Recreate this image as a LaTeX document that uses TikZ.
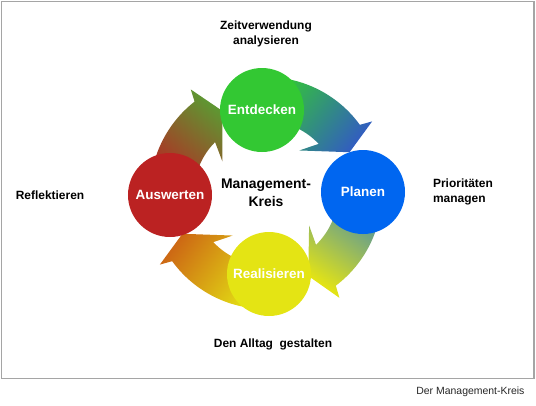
\documentclass[tikz,border=0pt]{standalone}
\usepackage{fontspec}
\setmainfont{Liberation Sans}
\usetikzlibrary{positioning}
\definecolor{gruen}{RGB}{51,200,51}
\definecolor{blau}{RGB}{0,102,240}
\definecolor{rot}{RGB}{187,34,34}
\definecolor{gelb}{RGB}{228,228,20}
\definecolor{stahl}{RGB}{50,95,190}
\definecolor{orangerot}{RGB}{205,105,20}
\definecolor{oliv}{RGB}{95,150,50}
\definecolor{rahmengrau}{RGB}{165,165,165}

\begin{document}
\begin{tikzpicture}[x=1bp,y=1bp,node distance=80bp,on grid,
  phase/.style={circle,minimum size=84bp,inner sep=0pt,text=white,font=\fontsize{13.5}{16}\selectfont\bfseries},
  etikett/.style={font=\fontsize{12}{15}\selectfont\bfseries,align=center}]
\useasboundingbox (-266,-212) rectangle (270,193);
\draw[rahmengrau,line width=1.5bp] (-264.5,191.5) rectangle (268,-185.5);
\node[etikett,font=\fontsize{14}{18}\selectfont\bfseries] (M) at (0,0) {Management-\\Kreis};

% Pfeile im Kreis
\shade[bottom color=gruen,middle color=gruen!65!stahl,top color=stahl,shading angle=-128]
  (93:72) arc[start angle=93,end angle=43,radius=72] -- (52:54) -- (26:93)
  -- (34:128) -- (36:116) arc[start angle=36,end angle=93,radius=116] -- cycle;
\shade[bottom color=blau!70!gelb,middle color=blau!35!gelb,top color=gelb,shading angle=145]
  (1:72) arc[start angle=1,end angle=-46,radius=72] -- (-37:54) -- (-63:93)
  -- (-55:128) -- (-53:116) arc[start angle=-53,end angle=1,radius=116] -- cycle;
\shade[bottom color=gelb,middle color=gelb!60!orangerot,top color=orangerot,shading angle=54]
  (-88:72) arc[start angle=-88,end angle=-137,radius=72] -- (-128:54) -- (-154:93)
  -- (-146:128) -- (-144:116) arc[start angle=-144,end angle=-88,radius=116] -- cycle;
\shade[bottom color=rot,middle color=rot!65!oliv,top color=oliv,shading angle=-40]
  (181:72) arc[start angle=181,end angle=135,radius=72] -- (144:54) -- (118:93)
  -- (126:128) -- (128:116) arc[start angle=128,end angle=181,radius=116] -- cycle;

\node[phase,fill=gruen] (E) [above=83bp of M,xshift=-4bp] {Entdecken};
\node[phase,fill=blau]  (P) [right=97bp of M,yshift=1bp] {Planen};
\node[phase,fill=gelb]  (R) [below=81bp of M,xshift=3bp] {Realisieren};
\node[phase,fill=rot]   (A) [left=96bp of M,yshift=-2bp] {Auswerten};

\node[etikett] (Z)  [above=76bp of E,xshift=4bp] {Zeitverwendung\\analysieren};
\node[etikett] (Pr) [right=100bp of P,align=left] {Prioritäten\\managen};
\node[etikett] (D)  [below=70bp of R,xshift=4bp] {Den Alltag~ gestalten};
\node[etikett] (Rf) [left=120bp of A] {Reflektieren};
\node[anchor=east,font=\fontsize{10.5}{12}\selectfont,text=black!85] (T) at (262,-199) {Der Management-Kreis};
\end{tikzpicture}
\end{document}
